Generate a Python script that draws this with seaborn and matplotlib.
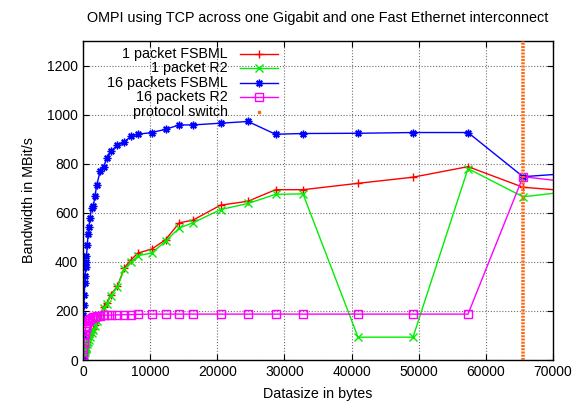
import numpy as np
import pandas as pd
import matplotlib
matplotlib.use("Agg")
import matplotlib.pyplot as plt
from matplotlib.lines import Line2D
import seaborn as sns

# Message sizes in bytes
sizes = [1, 32, 64, 128, 192, 256, 320, 384, 448, 512, 640, 768, 896, 1024,
         1280, 1536, 1792, 2048, 2560, 3072, 3584, 4096, 5120, 6144, 7168,
         8192, 10240, 12288, 14336, 16384, 20480, 24576, 28672, 32768,
         40960, 49152, 57344, 65536, 73728]

# Bandwidth in MBit/s for each configuration
one_fsbml = [0.5, 8, 15, 25, 33, 40, 47, 53, 58, 64, 75, 85, 92, 100,
             115, 128, 143, 165, 184, 218, 232, 266, 300, 375, 409,
             436, 452, 490, 559, 570, 631, 647, 694, 694,
             720, 745, 788, 704, 686]
one_r2 = [0.5, 6, 12, 20, 27, 33, 40, 45, 50, 55, 65, 75, 83, 92,
          108, 122, 138, 160, 178, 213, 228, 262, 297, 370, 400,
          425, 436, 484, 538, 559, 613, 638, 675, 677,
          93, 93, 780, 665, 691]
sixteen_fsbml = [2, 100, 185, 226, 266, 313, 344, 381, 400, 422, 470, 514, 543, 580,
                 618, 627, 670, 713, 770, 788, 825, 850, 875, 888, 913,
                 920, 927, 940, 958, 958, 965, 972, 920, 923,
                 924, 927, 927, 747, 763]
sixteen_r2 = [2, 20, 45, 70, 90, 105, 120, 130, 136, 140, 152, 160, 165, 168,
              172, 175, 177, 178, 180, 182, 183, 183, 184, 185, 185,
              186, 187, 187, 187, 187, 187, 187, 187, 187,
              187, 187, 187, 747, 721]

# Datasize at which the protocol switches
switch_size = 65536

labels = ["1 packet FSBML", "1 packet R2", "16 packets FSBML", "16 packets R2"]
series = [one_fsbml, one_r2, sixteen_fsbml, sixteen_r2]
colors = ["#ff0000", "#00ee00", "#0000ff", "#ff00ff"]
markers = ["+", "x", (8, 2, 0), "s"]
switch_color = "#ff6a10"

df = pd.concat(
    [pd.DataFrame({"size": sizes, "bw": vals, "series": lab})
     for lab, vals in zip(labels, series)],
    ignore_index=True,
)

plt.rcParams["font.family"] = ["Liberation Sans", "DejaVu Sans"]
plt.rcParams["font.size"] = 10

fig = plt.figure(figsize=(5.76, 4.03), dpi=100)
ax = fig.add_axes([83 / 576, 1 - 360 / 403, (553 - 83) / 576, (360 - 41) / 403])

for lab, col, mk in zip(labels, colors, markers):
    sub = df[df["series"] == lab]
    sns.lineplot(data=sub, x="size", y="bw", ax=ax, color=col, marker=mk,
                 markersize=5.5, mec=col, mfc="none", mew=1.0, lw=1.0,
                 sort=False, estimator=None, legend=False)

ax.axvline(switch_size, color=switch_color, lw=2.6, ls=(0, (0.55, 0.35)), zorder=5)

ax.set_xlim(0, 70000)
ax.set_ylim(0, 1300)
ax.set_xticks(np.arange(0, 70001, 10000))
ax.set_yticks(np.arange(0, 1201, 200))
ax.grid(True, color="#707070", ls=(0, (1, 1.6)), lw=0.8)
ax.tick_params(direction="in", top=True, right=True, length=4, width=0.8,
               labelsize=10, colors="black")
for sp in ax.spines.values():
    sp.set_linewidth(1.0)
    sp.set_color("black")

ax.set_xlabel("Datasize in bytes", fontsize=10.3, labelpad=6)
ax.set_ylabel("Bandwidth in MBit/s", fontsize=10.3, labelpad=8)
ax.set_title("OMPI using TCP across one Gigabit and one Fast Ethernet interconnect",
             fontsize=10.4, pad=14)

# Key in the upper left: labels right-aligned, samples to their right
key_rows = labels + ["protocol switch"]
x_text = (228 - 83) / 470
x0, x1 = (240 - 83) / 470, (278 - 83) / 470
xm = (x0 + x1) / 2
for i, lab in enumerate(key_rows):
    y = 1 - (54 - 41 + i * 14.4) / 319
    ax.text(x_text, y, lab, transform=ax.transAxes, ha="right", va="center",
            fontsize=10.3, zorder=6)
    if i < 4:
        ax.add_line(Line2D([x0, x1], [y, y], transform=ax.transAxes,
                           color=colors[i], lw=1.0, zorder=6))
        ax.add_line(Line2D([xm], [y], transform=ax.transAxes, color=colors[i],
                           marker=markers[i], markersize=5.5, mfc="none",
                           mew=1.0, zorder=6))
    else:
        ax.add_line(Line2D([xm], [y], transform=ax.transAxes, color=switch_color,
                           marker="s", markersize=1.8, lw=0, zorder=6))

fig.savefig("out.png", dpi=100)
